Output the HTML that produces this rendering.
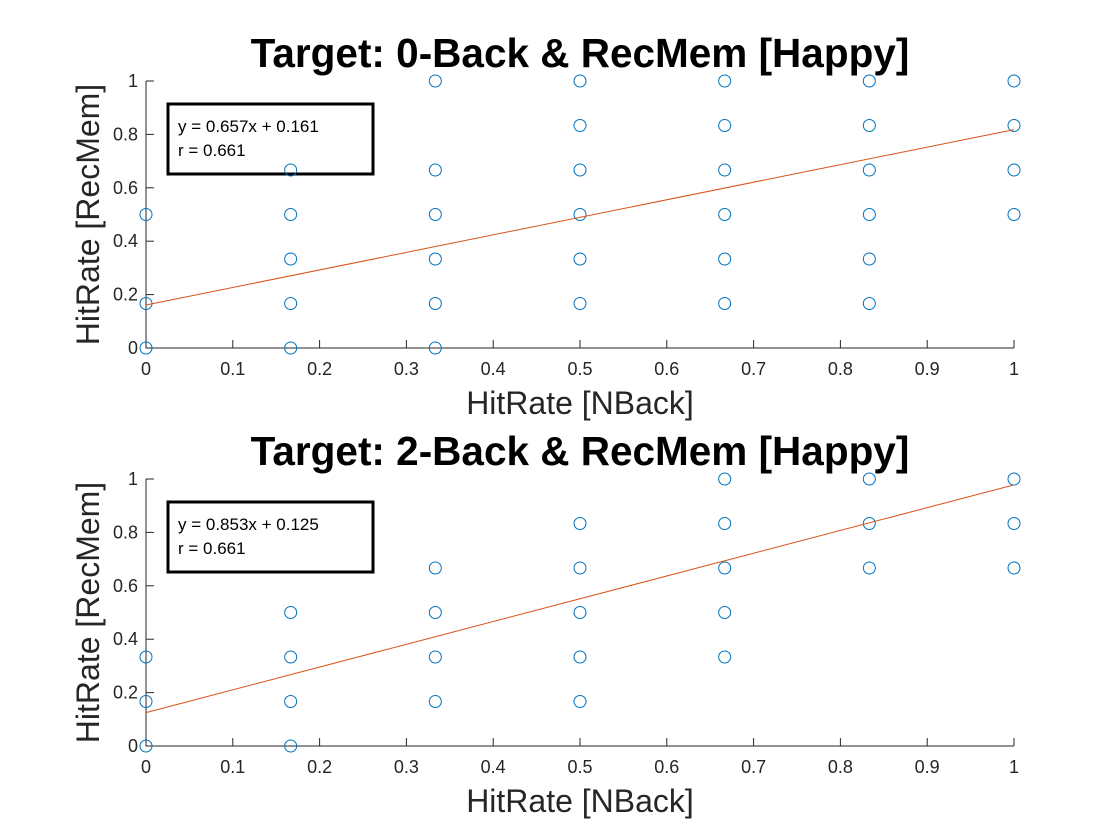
<!DOCTYPE html>
<html><head><meta charset="utf-8"><style>
html,body{margin:0;padding:0;background:#fff;}
svg{display:block;font-family:"Liberation Sans",sans-serif;}
</style></head><body>
<svg id="chart" width="1120" height="840"></svg>
<script>
const xTicks=[0,0.1,0.2,0.3,0.4,0.5,0.6,0.7,0.8,0.9,1];
const yTicks=[0,0.2,0.4,0.6,0.8,1];
const titles=["Target: 0-Back & RecMem [Happy]","Target: 2-Back & RecMem [Happy]"];
const slopes=[0.657,0.853];
const intercepts=[0.161,0.125];
const rValues=[0.661,0.661];
const topX=[0,0,0,1/6,1/6,1/6,1/6,1/6,1/3,1/3,1/3,1/3,1/3,1/3,0.5,0.5,0.5,0.5,0.5,0.5,2/3,2/3,2/3,2/3,2/3,2/3,5/6,5/6,5/6,5/6,5/6,5/6,1,1,1,1];
const topY=[0,1/6,0.5,0,1/6,1/3,0.5,2/3,0,1/6,1/3,0.5,2/3,1,1/6,1/3,0.5,2/3,5/6,1,1/6,1/3,0.5,2/3,5/6,1,1/6,1/3,0.5,2/3,5/6,1,0.5,2/3,5/6,1];
const botX=[0,0,0,1/6,1/6,1/6,1/6,1/3,1/3,1/3,1/3,0.5,0.5,0.5,0.5,0.5,2/3,2/3,2/3,2/3,2/3,5/6,5/6,5/6,1,1,1];
const botY=[0,1/6,1/3,0,1/6,1/3,0.5,1/6,1/3,0.5,2/3,1/6,1/3,0.5,2/3,5/6,1/3,0.5,2/3,5/6,1,2/3,5/6,1,2/3,5/6,1];
const NS="http://www.w3.org/2000/svg";
const svg=document.getElementById('chart');
function mk(tag,attrs,parent){const e=document.createElementNS(NS,tag);for(const k in attrs)e.setAttribute(k,attrs[k]);(parent||svg).appendChild(e);return e;}
const panels=[{y0:348,y1:81,xs:topX,ys:topY},{y0:746,y1:479,xs:botX,ys:botY}];
const X0=146,X1=1014;
panels.forEach((p,i)=>{
  const sx=v=>X0+(X1-X0)*v;
  const sy=v=>p.y0+(p.y1-p.y0)*v;
  const g=mk('g',{});
  
  
  const t=mk('text',{x:580,y:p.y1-14,'text-anchor':'middle','font-size':40.5,'font-weight':'bold',fill:'#000'},g);
  t.textContent=titles[i];
  
  
  const ax=mk('path',{d:`M${X0},${p.y1}V${p.y0}H${X1}`,stroke:'#262626','stroke-width':1,fill:'none'},g);
  
  
  xTicks.forEach(v=>{
    mk('line',{x1:sx(v),x2:sx(v),y1:p.y0,y2:p.y0-8,stroke:'#262626'},g);
    const l=mk('text',{x:sx(v),y:p.y0+27,'text-anchor':'middle','font-size':18,fill:'#262626'},g);
    l.textContent=String(v);
    
    
  });
  yTicks.forEach(v=>{
    mk('line',{x1:X0,x2:X0+8,y1:sy(v),y2:sy(v),stroke:'#262626'},g);
    const l=mk('text',{x:X0-8,y:sy(v)+6,'text-anchor':'end','font-size':18,fill:'#262626'},g);
    l.textContent=String(v);
    
    
  });
  const xl=mk('text',{x:580,y:p.y0+66,'text-anchor':'middle','font-size':32,fill:'#262626'},g);
  xl.textContent='HitRate [NBack]';
  
  
  const yc=(p.y0+p.y1)/2;
  const yl=mk('text',{x:99,y:yc,'text-anchor':'middle','font-size':32,fill:'#262626',transform:`rotate(-90 99 ${yc})`},g);
  yl.textContent='HitRate [RecMem]';
  
  
  const bt=p.y1+23;
  const box=mk('rect',{x:168,y:bt,width:205,height:70,fill:'#fff',stroke:'#000','stroke-width':3},g);
  
  
  const e1=mk('text',{x:178,y:bt+28,'font-size':17,fill:'#000'},g);
  e1.textContent=`y = ${slopes[i].toFixed(3)}x + ${intercepts[i].toFixed(3)}`;
  
  
  const e2=mk('text',{x:178,y:bt+52,'font-size':17,fill:'#000'},g);
  e2.textContent=`r = ${rValues[i].toFixed(3)}`;
  
  
  p.xs.forEach((xv,j)=>{
    const c=mk('circle',{cx:sx(xv),cy:sy(p.ys[j]),r:6,fill:'none',stroke:'#0072BD','stroke-width':1},g);
    
    
  });
  const fl=mk('line',{x1:sx(0),y1:sy(intercepts[i]),x2:sx(1),y2:sy(slopes[i]+intercepts[i]),stroke:'#D95319','stroke-width':1},g);
  
  
});
</script>
</body></html>
